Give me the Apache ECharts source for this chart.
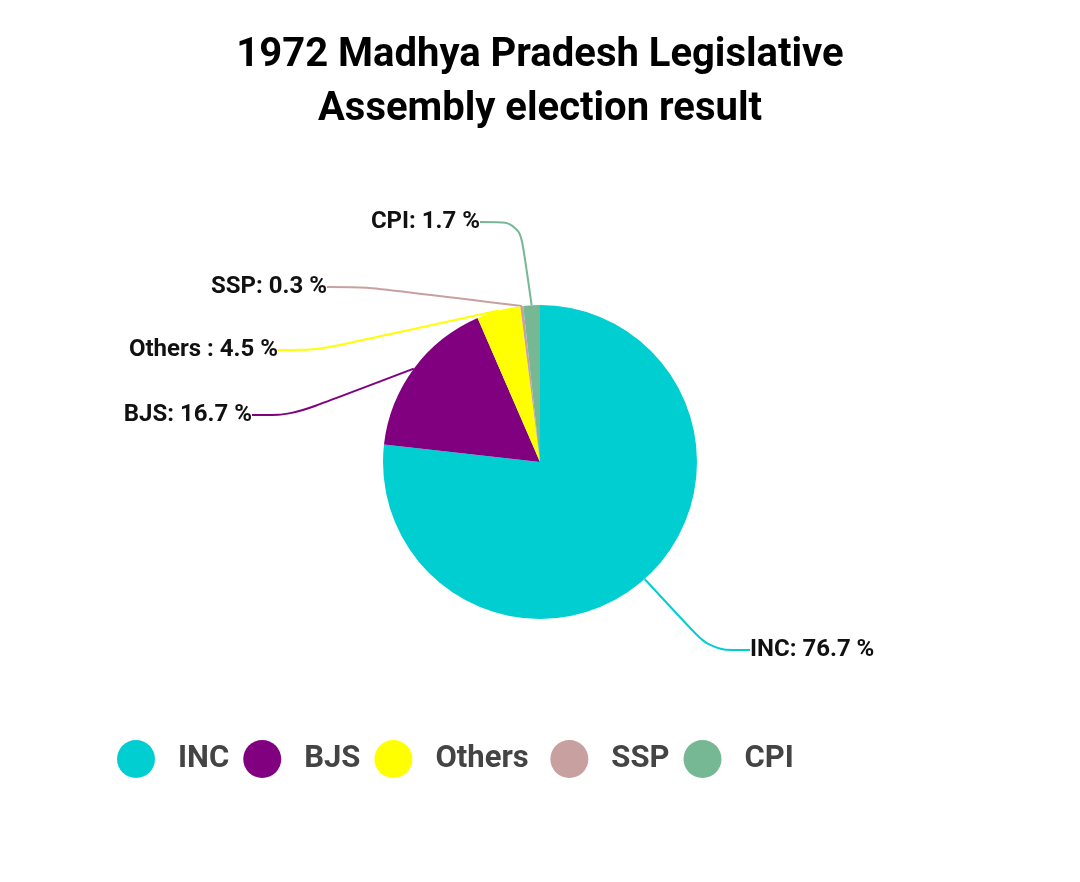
<!DOCTYPE html>
<html>
<head>
<meta charset="utf-8">
<script src="https://cdn.jsdelivr.net/npm/echarts@6/dist/echarts.min.js"></script>
<style>html,body{margin:0;background:#fff}#c{width:1080px;height:882px}</style>
</head>
<body>
<div id="c"></div>
<script>
var parties = ['INC', 'BJS', 'Others ', 'SSP', 'CPI'];
var shares = [76.7, 16.7, 4.5, 0.3, 1.7];
var colors = ['#00ced1', '#800080', '#ffff00', '#c9a0a0', '#77b894'];
// label anchor spots (x, y, align)
var labelSpots = [[750, 650, 'left'], [252, 415, 'right'], [278, 350, 'right'], [327, 287, 'right'], [480, 222, 'right']];

var chart = echarts.init(document.getElementById('c'));
chart.setOption({
  title: {
    text: '1972 Madhya Pradesh Legislative\nAssembly election result',
    left: 'center', top: 24,
    textStyle: { fontFamily: 'Roboto', fontWeight: 'bold', fontSize: 40, lineHeight: 54, color: '#000' }
  },
  color: colors,
  legend: {
    left: 112, top: 735, width: 900,
    icon: 'circle', itemWidth: 38, itemHeight: 38, itemGap: 14,
    formatter: '{a|{name}}',
    textStyle: { rich: { a: { fontFamily: 'Roboto', fontWeight: 'bold', fontSize: 31, color: '#444', width: 160, padding: [0, 0, 0, 18] } } },
    data: parties
  },
  series: [{
    type: 'pie',
    center: [540, 462], radius: 157,
    startAngle: 90, clockwise: true,
    data: parties.map(function (p, i) { return { name: p, value: shares[i] }; }),
    label: {
      formatter: '{b}: {c} %',
      fontFamily: 'Roboto', fontWeight: 'bold', fontSize: 24, color: '#111'
    },
    labelLine: { length: 40, length2: 40, smooth: true, lineStyle: { width: 2 } },
    labelLayout: function (p) {
      var s = labelSpots[p.dataIndex];
      return { x: s[0], y: s[1], align: s[2], verticalAlign: 'middle', moveOverlap: null };
    }
  }]
});
</script>
</body>
</html>
